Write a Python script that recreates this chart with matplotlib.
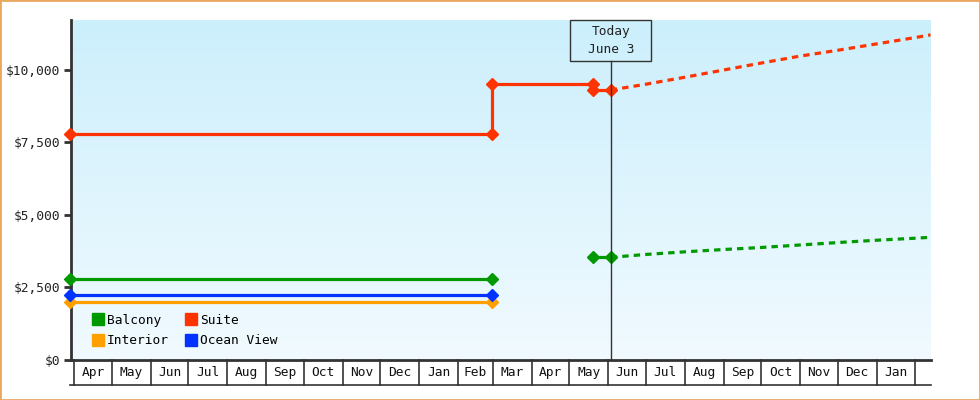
import numpy as np
import matplotlib
matplotlib.use("Agg")
import matplotlib.pyplot as plt
import matplotlib.dates as mdates
from matplotlib.patches import Rectangle
from matplotlib.lines import Line2D
import matplotlib.transforms as mtransforms
import datetime as dt

# ---------------- data ----------------
hist_dates = ["2022-03-29", "2023-02-28"]
balcony_hist = [2790, 2790]
interior_hist = [1990, 1990]
ocean_hist = [2230, 2230]

suite_dates = ["2022-03-29", "2023-02-28", "2023-02-28", "2023-05-20", "2023-05-20", "2023-06-03"]
suite_vals = [7780, 7780, 9510, 9510, 9310, 9310]

balcony2_dates = ["2023-05-20", "2023-06-03"]
balcony2_vals = [3540, 3540]

fc_dates = ["2023-06-03", "2023-07-01", "2023-08-01", "2023-09-01", "2023-10-01",
            "2023-11-01", "2023-12-01", "2024-01-01", "2024-02-01", "2024-02-13"]
suite_fc = [9310, 9510, 9750, 10000, 10240, 10480, 10680, 10900, 11120, 11210]
balcony_fc = [3540, 3640, 3730, 3810, 3880, 3966, 4050, 4130, 4200, 4231]

month_starts = ["2022-04-01", "2022-05-01", "2022-06-01", "2022-07-01", "2022-08-01",
                "2022-09-01", "2022-10-01", "2022-11-01", "2022-12-01", "2023-01-01",
                "2023-02-01", "2023-03-01", "2023-04-01", "2023-05-01", "2023-06-01",
                "2023-07-01", "2023-08-01", "2023-09-01", "2023-10-01", "2023-11-01",
                "2023-12-01", "2024-01-01", "2024-02-01"]
month_labels = ["Apr", "May", "Jun", "Jul", "Aug", "Sep", "Oct", "Nov", "Dec", "Jan",
                "Feb", "Mar", "Apr", "May", "Jun", "Jul", "Aug", "Sep", "Oct", "Nov",
                "Dec", "Jan", ""]
yticks = [0, 2500, 5000, 7500, 10000]
ytick_labels = ["$0", "$2,500", "$5,000", "$7,500", "$10,000"]
today_date = "2023-06-03"
today_label = "Today\nJune 3"

legend_names = ["Balcony", "Interior", "Suite", "Ocean View"]

# ---------------- style ----------------
GREEN = "#009900"
RED = "#FF3300"
ORANGE = "#FFA000"
BLUE = "#0033FF"
DARK = "#333333"
TXT = "#222222"
FONT = "DejaVu Sans Mono"
FS = 9.3

def d(s):
    return mdates.date2num(dt.datetime.strptime(s, "%Y-%m-%d"))

def dl(lst):
    return [d(s) for s in lst]

fig = plt.figure(figsize=(9.8, 4.0), dpi=100)
fig.patch.set_facecolor("white")
ax = fig.add_axes([71/980, 40/400, 860/980, 340/400])

x0 = d("2022-03-29") + 0.4
x1 = d("2024-02-13") + 0.4
ax.set_xlim(x0, x1)
ax.set_ylim(0, 11724)

# gradient background
grad = np.linspace(0, 1, 256).reshape(-1, 1)
top = np.array([204, 239, 252]) / 255.0
bot = np.array([241, 250, 255]) / 255.0
img = bot[None, None, :] * (1 - grad[:, :, None]) + top[None, None, :] * grad[:, :, None]
ax.imshow(img, extent=[x0, x1, 0, 11724], origin="lower", aspect="auto", zorder=0)

lw = 2.3
ms = 6
# historical
ax.plot(dl(hist_dates), interior_hist, color=ORANGE, lw=lw, marker="D", ms=ms, zorder=3, clip_on=False)
ax.plot(dl(hist_dates), ocean_hist, color=BLUE, lw=lw, marker="D", ms=ms, zorder=4, clip_on=False)
ax.plot(dl(hist_dates), balcony_hist, color=GREEN, lw=lw, marker="D", ms=ms, zorder=4, clip_on=False)
ax.plot(dl(suite_dates), suite_vals, color=RED, lw=lw, marker="D", ms=ms, zorder=4, clip_on=False)
ax.plot(dl(balcony2_dates), balcony2_vals, color=GREEN, lw=lw, marker="D", ms=ms, zorder=4)

# forecasts
ax.plot(dl(fc_dates), suite_fc, color=RED, lw=lw, ls=(0, (2.0, 1.6)), zorder=3)
ax.plot(dl(fc_dates), balcony_fc, color=GREEN, lw=lw, ls=(0, (2.0, 1.6)), zorder=3)

# today line and box
td = d(today_date)
ax.axvline(td, ymin=0, ymax=0.88, color=DARK, lw=1, zorder=5)
tb = mtransforms.blended_transform_factory(ax.transData, ax.transAxes)
ax.add_patch(Rectangle((td - 32.5, 0.88), 64.6, 0.12, transform=tb,
                       facecolor="none", edgecolor=DARK, lw=1, zorder=6, clip_on=False))
ax.text(td, 0.94, today_label, transform=tb, ha="center", va="center",
        fontsize=FS, family=FONT, color=TXT, linespacing=1.45, zorder=7)

# spines and ticks
for s in ["top", "right"]:
    ax.spines[s].set_visible(False)
for s in ["left", "bottom"]:
    ax.spines[s].set_color(DARK)
    ax.spines[s].set_linewidth(2)
ax.set_yticks(yticks)
ax.set_yticklabels(ytick_labels, family=FONT, fontsize=FS, color=TXT)
ax.tick_params(axis="y", direction="out", length=5, width=2, color=DARK, pad=3)
ax.set_xticks([])

# month cells below
cell_h = 25 / 340
ms_nums = dl(month_starts)
for i, m in enumerate(ms_nums):
    ax.plot([m, m], [0, -cell_h], transform=tb, color=DARK, lw=1.2, clip_on=False)
    nxt = ms_nums[i + 1] if i + 1 < len(ms_nums) else x1
    if month_labels[i]:
        ax.text((m + nxt) / 2, -cell_h / 2, month_labels[i], transform=tb,
                ha="center", va="center", fontsize=FS, family=FONT, color="#111111")
ax.plot([x0 - 1, x1], [-cell_h, -cell_h], transform=tb, color=DARK, lw=1.2, clip_on=False)

# legend
colors = [GREEN, ORANGE, RED, BLUE]
handles = [Line2D([0], [0], marker="s", color="none", markerfacecolor=c, markeredgecolor=c,
                  markersize=8) for c in colors]
ax.legend(handles, legend_names, ncol=2, loc="upper left",
          bbox_to_anchor=((92 - 71) / 860, (360 - 314) / 340), frameon=False,
          prop={"family": FONT, "size": FS}, handlelength=0.9, handletextpad=0.25,
          columnspacing=1.25, labelspacing=0.55, borderaxespad=0, borderpad=0)

# figure border
fig.patches.append(Rectangle((0, 0), 1, 1, transform=fig.transFigure, fill=False,
                             edgecolor="#E8A860", lw=2, zorder=10))

fig.savefig("out.png", dpi=100)
